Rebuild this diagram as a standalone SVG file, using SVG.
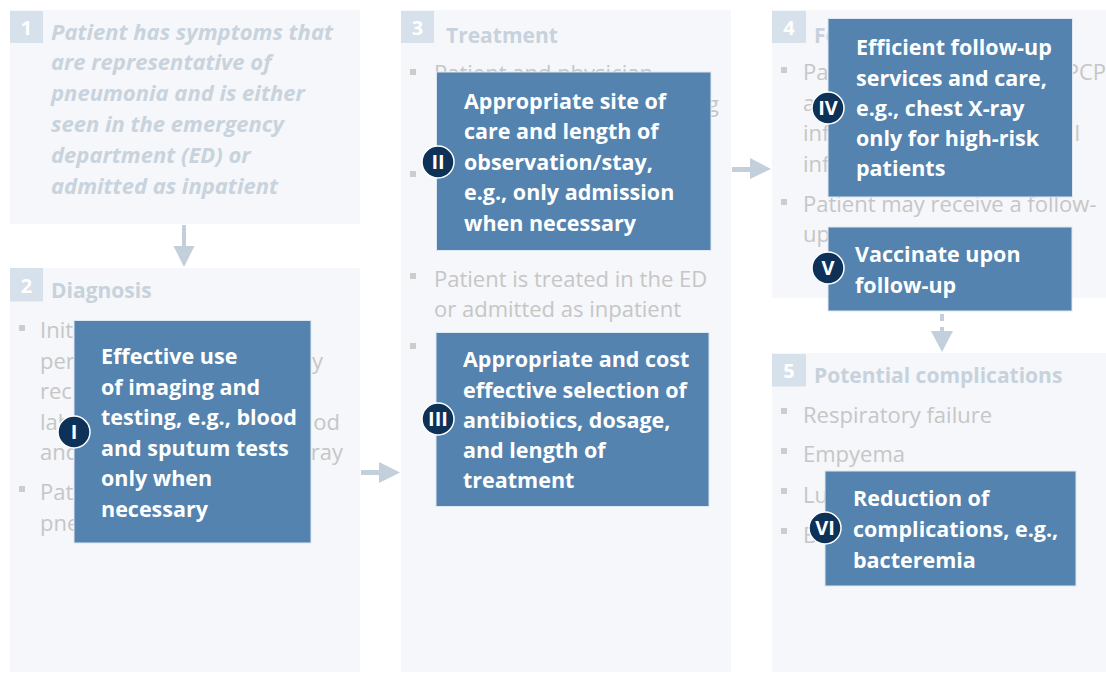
<svg xmlns="http://www.w3.org/2000/svg" width="1106" height="673" viewBox="0 0 1106 673">
<style>
.panel{fill:#f5f7fa}
.num{fill:#d6e1eb}
.numt{font-family:"Open Sans",sans-serif;font-weight:bold;font-size:20px;fill:#ffffff;text-anchor:middle}
.title{font-family:"Open Sans",sans-serif;font-weight:bold;font-size:21px;fill:#c7d2dc}
.ital{font-family:"Open Sans",sans-serif;font-weight:bold;font-style:italic;font-size:22px;fill:#c8d3dd}
.gray{font-family:"Open Sans",sans-serif;font-size:22px;fill:#c6c6c6}
.gray-end{font-family:"Open Sans",sans-serif;font-size:22px;fill:#c6c6c6;text-anchor:end}
.bul{fill:#cdcdcd}
.box{fill:#5383ae;stroke:#dfe8f0;stroke-width:1}
.bt{font-family:"Open Sans",sans-serif;font-weight:bold;font-size:21.5px;fill:#ffffff}
.circ{fill:#0e3158;stroke:#ffffff;stroke-width:1.5}
.ct{font-family:"Open Sans",sans-serif;font-weight:bold;font-size:20px;fill:#ffffff;text-anchor:middle}
.arr{fill:#c3cfda}
</style>

<!-- Panels -->
<g id="panel1">
  <rect class="panel" x="10" y="10" width="350" height="214"/>
  <rect class="num" x="10" y="11" width="33" height="32"/>
  <text class="numt" x="26.5" y="35">1</text>
  <text class="ital" x="51" y="39.5">Patient has symptoms that</text>
  <text class="ital" x="51" y="70">are representative of</text>
  <text class="ital" x="51" y="101">pneumonia and is either</text>
  <text class="ital" x="51" y="132">seen in the emergency</text>
  <text class="ital" x="51" y="162.5">department (ED) or</text>
  <text class="ital" x="51" y="193.5">admitted as inpatient</text>
</g>

<g id="panel2">
  <rect class="panel" x="10" y="268" width="350" height="404"/>
  <rect class="num" x="10" y="268" width="33" height="33.5"/>
  <text class="numt" x="26.5" y="293">2</text>
  <text class="title" x="51" y="298">Diagnosis</text>
  <rect class="bul" x="19" y="325" width="6" height="6"/>
  <text class="gray" x="40" y="338">Init</text>
  <text class="gray" x="40" y="368.5">per</text>
  <text class="gray-end" x="323" y="368.5">y</text>
  <text class="gray" x="40" y="399">rec</text>
  <text class="gray" x="40" y="429.5">lab</text>
  <text class="gray-end" x="340" y="429.5">od</text>
  <text class="gray" x="40" y="460">and</text>
  <text class="gray-end" x="343" y="460">ray</text>
  <rect class="bul" x="19" y="486" width="6" height="6"/>
  <text class="gray" x="40" y="500">Pat</text>
  <text class="gray" x="40" y="530.5">pne</text>
</g>

<g id="panel3">
  <rect class="panel" x="401" y="10" width="330" height="662"/>
  <rect class="num" x="401" y="11" width="33" height="32"/>
  <text class="numt" x="417.5" y="35">3</text>
  <text class="title" x="446" y="42.5">Treatment</text>
  <rect class="bul" x="410" y="69" width="6" height="6"/>
  <text class="gray" x="434" y="81">Patient and physician</text>
  <text class="gray-end" x="719" y="111.5">g</text>
  <rect class="bul" x="410" y="171" width="6" height="6"/>
  <rect class="bul" x="410" y="273" width="6" height="6"/>
  <text class="gray" x="434" y="286.5">Patient is treated in the ED</text>
  <text class="gray" x="434" y="316.5">or admitted as inpatient</text>
  <rect class="bul" x="410" y="343" width="6" height="6"/>
</g>

<g id="panel4">
  <rect class="panel" x="772" y="10" width="334" height="288"/>
  <rect class="num" x="772" y="11" width="34" height="32"/>
  <text class="numt" x="789" y="35">4</text>
  <text class="title" x="814" y="42.5">Fo</text>
  <rect class="bul" x="781" y="67" width="6" height="6"/>
  <text class="gray" x="803" y="80">Pa</text>
  <text class="gray-end" x="1106" y="80">PCP</text>
  <text class="gray" x="803" y="110.5">a</text>
  <text class="gray" x="803" y="141">inf</text>
  <text class="gray-end" x="1080" y="141">l</text>
  <text class="gray" x="803" y="171.5">inf</text>
  <rect class="bul" x="781" y="199" width="6" height="6"/>
  <text class="gray" x="803" y="211.5">Patient may receive a follow-</text>
  <text class="gray" x="803" y="242">up</text>
</g>

<g id="panel5">
  <rect class="panel" x="772" y="353" width="334" height="319"/>
  <rect class="num" x="772" y="354" width="34" height="32.5"/>
  <text class="numt" x="789" y="378">5</text>
  <text class="title" x="814" y="382.5">Potential complications</text>
  <rect class="bul" x="781" y="408" width="6" height="6"/>
  <text class="gray" x="803" y="422.5">Respiratory failure</text>
  <rect class="bul" x="781" y="448" width="6" height="6"/>
  <text class="gray" x="803" y="462">Empyema</text>
  <rect class="bul" x="781" y="488" width="6" height="6"/>
  <text class="gray" x="803" y="502.5">Lu</text>
  <rect class="bul" x="781" y="528" width="6" height="6"/>
  <text class="gray" x="803" y="542.5">B</text>
</g>

<!-- Connectors -->
<g id="connectors">
  <rect class="arr" x="182" y="225" width="4" height="22"/>
  <polygon class="arr" points="173.5,246 194.5,246 184,267"/>
  <rect class="arr" x="361" y="470" width="19" height="5"/>
  <polygon class="arr" points="379,462 379,483 400,472.5"/>
  <rect class="arr" x="732" y="167" width="19" height="5"/>
  <polygon class="arr" points="750,158 750,179 771,169"/>
  <rect class="arr" x="940" y="314" width="4" height="7"/>
  <rect class="arr" x="940" y="327" width="4" height="5"/>
  <polygon class="arr" points="931,331 953,331 942,352"/>
</g>

<!-- Callout nodes -->
<g id="nodeI">
  <rect class="box" x="74" y="320.5" width="237" height="222.5"/>
  <text class="bt" x="101" y="364">Effective use</text>
  <text class="bt" x="101" y="394.5">of imaging and</text>
  <text class="bt" x="101" y="425">testing, e.g., blood</text>
  <text class="bt" x="101" y="455.5">and sputum tests</text>
  <text class="bt" x="101" y="486">only when</text>
  <text class="bt" x="101" y="516.5">necessary</text>
  <circle class="circ" cx="74" cy="432" r="16"/>
  <text class="ct" x="74" y="439">I</text>
</g>

<g id="nodeII">
  <rect class="box" x="436.5" y="72" width="274.5" height="178.5"/>
  <text class="bt" x="464" y="108.5">Appropriate site of</text>
  <text class="bt" x="464" y="139">care and length of</text>
  <text class="bt" x="464" y="169.5">observation/stay,</text>
  <text class="bt" x="464" y="200">e.g., only admission</text>
  <text class="bt" x="464" y="230.5">when necessary</text>
  <circle class="circ" cx="438" cy="162" r="16"/>
  <text class="ct" x="438" y="169">II</text>
</g>

<g id="nodeIII">
  <rect class="box" x="436" y="332.5" width="273" height="174"/>
  <text class="bt" x="463" y="367">Appropriate and cost</text>
  <text class="bt" x="463" y="397.5">effective selection of</text>
  <text class="bt" x="463" y="427.5">antibiotics, dosage,</text>
  <text class="bt" x="463" y="458">and length of</text>
  <text class="bt" x="463" y="488">treatment</text>
  <circle class="circ" cx="438" cy="419" r="16"/>
  <text class="ct" x="438" y="426">III</text>
</g>

<g id="nodeIV">
  <rect class="box" x="828" y="18.5" width="244.5" height="178.5"/>
  <text class="bt" x="856" y="55">Efficient follow-up</text>
  <text class="bt" x="856" y="85.5">services and care,</text>
  <text class="bt" x="856" y="115.5">e.g., chest X-ray</text>
  <text class="bt" x="856" y="146">only for high-risk</text>
  <text class="bt" x="856" y="176">patients</text>
  <circle class="circ" cx="828" cy="108" r="16"/>
  <text class="ct" x="828" y="115">IV</text>
</g>

<g id="nodeV">
  <rect class="box" x="828" y="227" width="244" height="84"/>
  <text class="bt" x="855" y="262">Vaccinate upon</text>
  <text class="bt" x="855" y="292.5">follow-up</text>
  <circle class="circ" cx="828" cy="268" r="16"/>
  <text class="ct" x="828" y="275">V</text>
</g>

<g id="nodeVI">
  <rect class="box" x="825" y="471" width="251" height="115"/>
  <text class="bt" x="853" y="506">Reduction of</text>
  <text class="bt" x="853" y="537">complications, e.g.,</text>
  <text class="bt" x="853" y="567.5">bacteremia</text>
  <circle class="circ" cx="825" cy="528" r="16"/>
  <text class="ct" x="825" y="535">VI</text>
</g>
</svg>
